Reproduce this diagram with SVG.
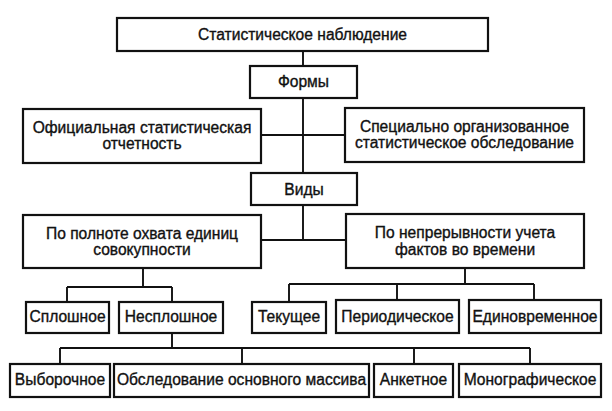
<svg xmlns="http://www.w3.org/2000/svg" width="612" height="411" viewBox="0 0 612 411">
<style>
.b{fill:#fff;stroke:#111;stroke-width:2.2}
.t{font-family:"Liberation Sans",Arial,sans-serif;font-size:15.6px;fill:#111;stroke:#111;stroke-width:0.35;text-anchor:middle}
.c{fill:none;stroke:#111;stroke-width:1.9}
</style>
<rect width="612" height="411" fill="#fff"/>
<g id="connectors">
<path class="c" d="M303 51V66M303 98V173M261 135H345M303 205V240M261 240H346M143 268V287M67 287H172M67 287V302M172 287V302M172 333V348M60 348H530M60 348V364M242 348V364M414 348V364M530 348V364M465 268V284M289 284H534M289 284V302M397 284V300M534 284V300"/>
</g>
<g id="n1"><rect class="b" x="117" y="18" width="371" height="33"/><text class="t" x="302.5" y="40">Статистическое наблюдение</text></g>
<g id="n2"><rect class="b" x="250" y="66" width="107" height="32"/><text class="t" x="303.5" y="87">Формы</text></g>
<g id="n3"><rect class="b" x="23" y="109" width="238" height="54"/><text class="t" x="142" y="133">Официальная статистическая</text><text class="t" x="142" y="149">отчетность</text></g>
<g id="n4"><rect class="b" x="345" y="108" width="239" height="54"/><text class="t" x="464.5" y="132">Специально организованное</text><text class="t" x="464.5" y="148">статистическое обследование</text></g>
<g id="n5"><rect class="b" x="251" y="173" width="106" height="32"/><text class="t" x="304" y="195">Виды</text></g>
<g id="n6"><rect class="b" x="23" y="215" width="238" height="53"/><text class="t" x="142" y="239">По полноте охвата единиц</text><text class="t" x="142" y="255">совокупности</text></g>
<g id="n7"><rect class="b" x="346" y="214" width="238" height="54"/><text class="t" x="465" y="238">По непрерывности учета</text><text class="t" x="465" y="255">фактов во времени</text></g>
<g id="n8"><rect class="b" x="26" y="302" width="83" height="31"/><text class="t" x="67.5" y="322">Сплошное</text></g>
<g id="n9"><rect class="b" x="119" y="302" width="104" height="31"/><text class="t" x="171" y="322">Несплошное</text></g>
<g id="n10"><rect class="b" x="252" y="302" width="74" height="31"/><text class="t" x="289" y="322">Текущее</text></g>
<g id="n11"><rect class="b" x="336" y="300" width="123" height="33"/><text class="t" x="397.5" y="322">Периодическое</text></g>
<g id="n12"><rect class="b" x="469" y="300" width="132" height="33"/><text class="t" x="535" y="322">Единовременное</text></g>
<g id="n13"><rect class="b" x="10" y="364" width="100" height="33"/><text class="t" x="60" y="385">Выборочное</text></g>
<g id="n14"><rect class="b" x="114" y="364" width="255" height="33"/><text class="t" x="241.5" y="385">Обследование основного массива</text></g>
<g id="n15"><rect class="b" x="374" y="364" width="79" height="33"/><text class="t" x="413.5" y="385">Анкетное</text></g>
<g id="n16"><rect class="b" x="459" y="364" width="142" height="33"/><text class="t" x="530" y="385">Монографическое</text></g>
</svg>
